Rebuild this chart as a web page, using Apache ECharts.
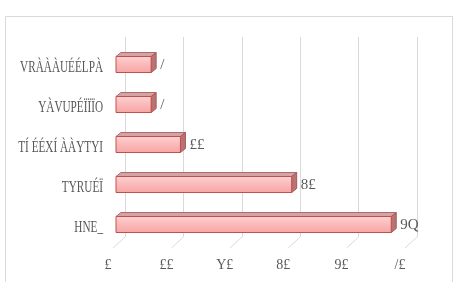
<!DOCTYPE html>
<html><head><meta charset="utf-8">
<script src="https://cdn.jsdelivr.net/npm/echarts@6/dist/echarts.min.js"></script>
<style>html,body{margin:0;padding:0;background:#fff}#c{width:456px;height:282px}</style>
</head><body><div id="c"></div>
<script>
var categories = ["VRÀÀÀUÉÉLPÀ", "YÀVUPÉÏÏÏO", "TÍ ÉÉXÍ ÀÀYTYI", "TYRUÉÏ", "HNE_"];
var values = [6, 6, 11, 30, 47];
var barLabels = ["/", "/", "££", "8£", "9Q"];
var tickValues = [0, 10, 20, 30, 40, 50];
var tickLabels = ["£", "££", "Y£", "8£", "9£", "/£"];

var FONT = '"Liberation Serif", "DejaVu Serif", serif';
var TXT = '#595959';
var chart = echarts.init(document.getElementById('c'), null, {renderer: 'canvas'});

var tickMap = {};
tickValues.forEach(function (v, i) { tickMap[v] = tickLabels[i]; });

function bar3d(params, api) {
  var i = params.dataIndex;
  var v = api.value(0);
  var c = api.value(1);
  var p0 = api.coord([0, c]);
  var p1 = api.coord([v, c]);
  var h = 16, dx = 5, dy = 4;
  var x0 = p0[0], x1 = p1[0], yt = p0[1] - h / 2, yb = p0[1] + h / 2;
  return {
    type: 'group',
    children: [
      {type: 'polygon', shape: {points: [[x0, yt], [x0 + dx, yt - dy], [x1 + dx, yt - dy], [x1, yt]]},
        style: {fill: '#d4a3a3', stroke: '#b56868', lineWidth: 1}},
      {type: 'polygon', shape: {points: [[x1, yt], [x1 + dx, yt - dy], [x1 + dx, yb - dy], [x1, yb]]},
        style: {fill: '#b87474', stroke: '#a85858', lineWidth: 1}},
      {type: 'rect', shape: {x: x0, y: yt, width: x1 - x0, height: h},
        style: {fill: new echarts.graphic.LinearGradient(0, 0, 0, 1, [
          {offset: 0, color: '#fdd3d3'}, {offset: 0.5, color: '#fbb9b9'}, {offset: 1, color: '#f6a4a4'}]),
          stroke: '#c0504d', lineWidth: 1}},
      {type: 'text', style: {text: barLabels[i], x: x1 + dx + 4, y: p0[1] + 1, verticalAlign: 'middle',
        align: 'left', fill: TXT, font: '15px ' + FONT}}
    ]
  };
}

function floorLine(params, api) {
  var p = api.coord([api.value(0), 0]);
  return {type: 'line', shape: {x1: p[0], y1: p[1], x2: p[0] + 12, y2: p[1] - 11},
    style: {stroke: '#d9d9d9', lineWidth: 1}};
}

function catLabel(params, api) {
  var i = params.dataIndex;
  var p = api.coord([0, api.value(0)]);
  return {type: 'text', x: p[0] - 13, y: p[1], scaleX: 0.66, scaleY: 1,
    style: {text: categories[i], x: 0, y: 0, align: 'right', verticalAlign: 'middle',
      fill: TXT, font: '17px ' + FONT}};
}

chart.setOption({
  animation: false,
  graphic: [{type: 'rect', shape: {x: 5.5, y: 16.5, width: 447, height: 300},
    style: {fill: 'none', stroke: '#d9d9d9', lineWidth: 1}, z: -10}],
  grid: [
    {left: 116, right: 47.2, top: 44.5, height: 200},   // bars
    {left: 125, right: 39, top: 37, bottom: 45},        // back wall gridlines
    {left: 113, right: 51, top: 237, height: 11},       // floor
    {left: 108, right: 56, top: 200, bottom: 32},       // tick labels
    {left: 116, right: 47.2, top: 48, height: 200}      // category labels
  ],
  xAxis: [
    {gridIndex: 0, type: 'value', min: 0, max: 50, interval: 10, show: false},
    {gridIndex: 1, type: 'value', min: 0, max: 50, interval: 10, axisLine: {show: false}, axisTick: {show: false},
      axisLabel: {show: false}, splitLine: {show: true, lineStyle: {color: '#d9d9d9', width: 1}}},
    {gridIndex: 2, type: 'value', min: 0, max: 50, interval: 10, show: false},
    {gridIndex: 3, type: 'value', min: 0, max: 50, interval: 10, axisLine: {show: false}, axisTick: {show: false},
      splitLine: {show: false},
      axisLabel: {margin: 8, color: TXT, fontFamily: FONT, fontSize: 14,
        formatter: function (v) { return tickMap[v] !== undefined ? tickMap[v] : ''; }}},
    {gridIndex: 4, type: 'value', min: 0, max: 50, show: false}
  ],
  yAxis: [
    {gridIndex: 0, type: 'category', data: categories, inverse: true, show: false},
    {gridIndex: 1, type: 'value', show: false},
    {gridIndex: 2, type: 'value', min: 0, max: 1, show: false},
    {gridIndex: 3, type: 'value', show: false},
    {gridIndex: 4, type: 'category', data: categories, inverse: true, show: false}
  ],
  series: [
    {type: 'custom', xAxisIndex: 2, yAxisIndex: 2, renderItem: floorLine,
      data: tickValues.map(function (t) { return [t]; }), silent: true},
    {type: 'custom', xAxisIndex: 4, yAxisIndex: 4, renderItem: catLabel,
      data: categories.map(function (c, i) { return [i]; }), silent: true},
    {type: 'custom', xAxisIndex: 0, yAxisIndex: 0, renderItem: bar3d, z: 5,
      encode: {x: 0, y: 1},
      data: values.map(function (v, i) { return [v, i]; })}
  ]
});
</script></body></html>
